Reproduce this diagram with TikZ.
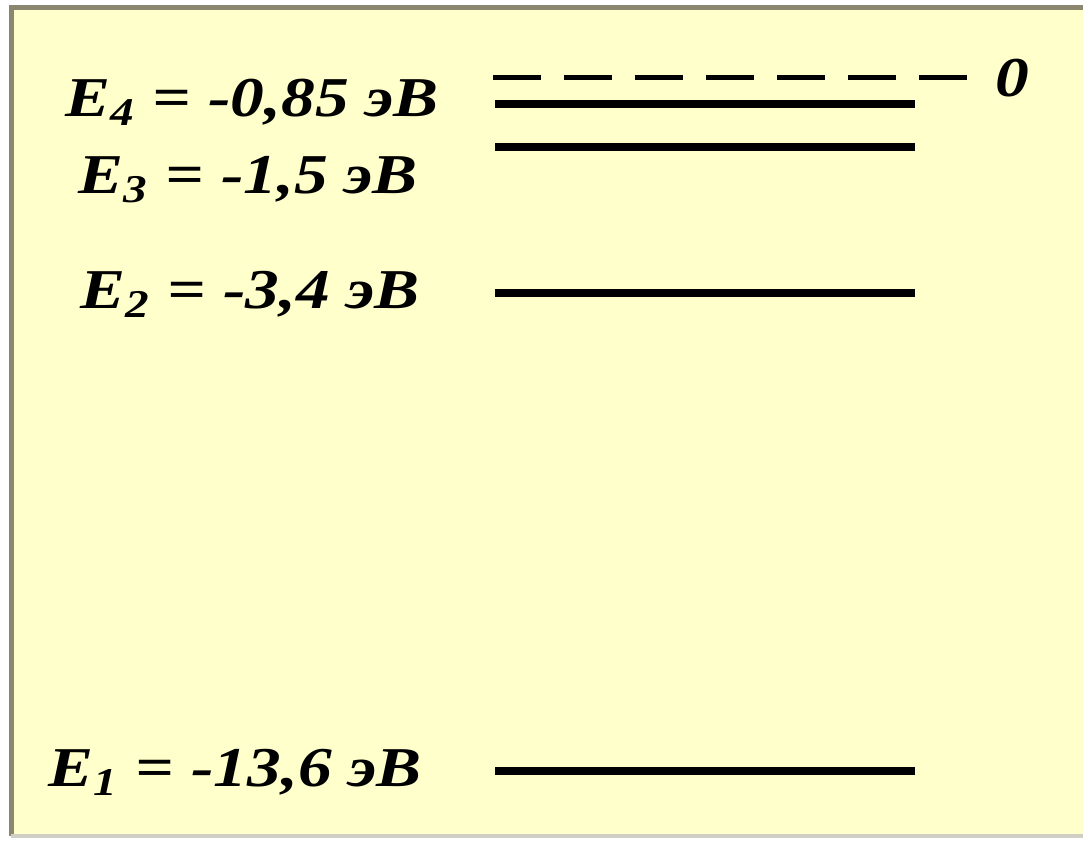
\documentclass[tikz,border=0pt]{standalone}
\usepackage{fontspec}
\setmainfont{Liberation Serif}
\newfontfamily\lblfont[FakeStretch=1.2]{Liberation Serif}
\definecolor{paper}{RGB}{255,255,204}
\definecolor{frame}{RGB}{138,134,112}
\tikzset{
  level/.style={line width=0.08cm},
  zerolevel/.style={line width=0.05cm, dash pattern=on 0.48cm off 0.23cm},
  elabel/.style={anchor=west, inner sep=0pt, font=\lblfont\fontsize{16}{18}\selectfont\bfseries\itshape}
}
\begin{document}
\begin{tikzpicture}

\useasboundingbox (0,0) rectangle (10.83,8.40);
\fill[white] (0,0) rectangle (10.83,8.40);
\fill[paper] (0.11,0.04) rectangle (10.83,8.32);
\draw[frame, line width=0.05cm] (0.11,0.04) -- (0.11,8.32) -- (10.83,8.32);
\draw[frame!40, line width=0.04cm] (0.11,0.04) -- (10.83,0.04);

% levels
\coordinate (z1) at (4.93,7.62);
\coordinate (z2) at (9.67,7.62);
\coordinate (a4) at (4.95,7.36);
\coordinate (b4) at (9.15,7.36);
\coordinate (a3) at (4.95,6.93);
\coordinate (b3) at (9.15,6.93);
\coordinate (a2) at (4.95,5.47);
\coordinate (b2) at (9.15,5.47);
\coordinate (a1) at (4.95,0.69);
\coordinate (b1) at (9.15,0.69);

\draw[zerolevel] (z1) -- (z2);
\draw[level] (a4) -- (b4);
\draw[level] (a3) -- (b3);
\draw[level] (a2) -- (b2);
\draw[level] (a1) -- (b1);

\node[elabel] (zero) at (9.95,7.62) {0};
\node[elabel] (e4) at (0.65,7.38) {E\textsubscript{4} = -0,85 эВ};
\node[elabel] (e3) at (0.78,6.60) {E\textsubscript{3} = -1,5 эВ};
\node[elabel] (e2) at (0.80,5.46) {E\textsubscript{2} = -3,4 эВ};
\node[elabel] (e1) at (0.48,0.68) {E\textsubscript{1} = -13,6 эВ};

\end{tikzpicture}
\end{document}
